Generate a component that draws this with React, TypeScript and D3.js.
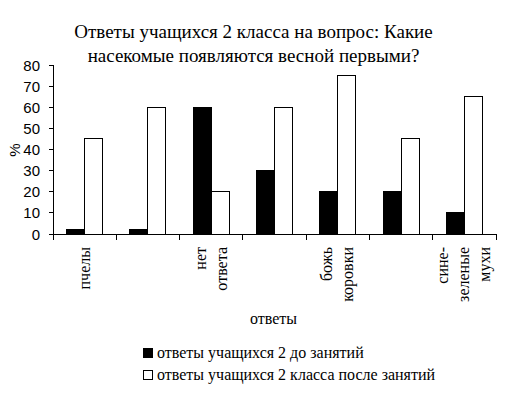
import React from "react";
import * as d3 from "d3";

const categories: string[][] = [["пчелы"], [""], ["нет", "ответа"], [""], ["божь", "коровки"], [""], ["сине-", "зеленые", "мухи"]];
const beforeValues = [2, 2, 60, 30, 20, 20, 10];
const afterValues = [45, 60, 20, 60, 75, 45, 65];
const yTicks = [0, 10, 20, 30, 40, 50, 60, 70, 80];
const seriesNames = ["ответы учащихся 2 до занятий", "ответы учащихся 2 класса после занятий"];
const titleLines = ["Ответы учащихся 2 класса на вопрос: Какие", "насекомые появляются весной первыми?"];

const W = 511;
const H = 397;
const left = 53;
const right = 496;
const top = 65;
const bottom = 234;

export default function App() {
  const idx = categories.map((_, i) => String(i));
  const x = d3.scaleBand<string>().domain(idx).range([left, right]).padding(0);
  const inner = d3.scaleBand<string>().domain(["b", "a"]).range([0, x.bandwidth()]).paddingInner(0).paddingOuter(0.758);
  const y = d3.scaleLinear().domain([0, 80]).range([bottom, top]);
  const series = [
    { key: "b", values: beforeValues, fill: "#000" },
    { key: "a", values: afterValues, fill: "#fff" },
  ];
  const boundaries = idx.map((d) => x(d)!).concat([right]);
  const serifFamily = "Times New Roman";
  const sansFamily = "Liberation Sans";

  return (
    <svg width={W} height={H} style={{ position: "absolute", left: 0, top: 0 }}>
      <rect width={W} height={H} fill="#fff" />
      {titleLines.map((t, i) => (
        <text key={i} x={253.5} y={38 + i * 24} textAnchor="middle" style={{ fontFamily: serifFamily, fontSize: "19px" }}>{t}</text>
      ))}
      {series.map((s) =>
        s.values.map((v, i) => (
          <rect
            key={s.key + i}
            x={x(String(i))! + inner(s.key)!}
            y={y(v)}
            width={inner.bandwidth()}
            height={bottom - y(v)}
            fill={s.fill}
            stroke="#000"
            strokeWidth={1}
            shapeRendering="crispEdges"
          />
        ))
      )}
      <g shapeRendering="crispEdges" stroke="#000" strokeWidth={1}>
        <line x1={left} x2={left} y1={top} y2={bottom} />
        {yTicks.map((t) => (
          <line key={t} x1={left - 4} x2={left} y1={y(t)} y2={y(t)} />
        ))}
        <line x1={left} x2={right} y1={bottom} y2={bottom} />
        {boundaries.map((b, i) => (
          <line key={i} x1={b} x2={b} y1={bottom} y2={bottom + 6} />
        ))}
      </g>
      {yTicks.map((t) => (
        <text key={t} x={40} y={y(t) + 5.5} textAnchor="end" style={{ fontFamily: sansFamily, fontSize: "15px" }}>{t}</text>
      ))}
      <text textAnchor="middle" transform={`translate(20,150) rotate(-90)`} style={{ fontFamily: sansFamily, fontSize: "15px" }}>%</text>
      {categories.map((lines, i) => {
        const cx = x(String(i))! + x.bandwidth() / 2;
        return lines.map((ln, j) => {
          const bx = cx + (j - (lines.length - 1) / 2) * 21 + 5;
          return (
            <text key={i + "-" + j} textAnchor="end" transform={`translate(${bx},247) rotate(-90)`} style={{ fontFamily: serifFamily, fontSize: "16px" }}>{ln}</text>
          );
        });
      })}
      <text textAnchor="middle" x={273.5} y={324} style={{ fontFamily: serifFamily, fontSize: "16px" }}>ответы</text>
      {seriesNames.map((n, i) => (
        <g key={i}>
          <rect x={143.5} y={348.5 + i * 22} width={9} height={9} fill={series[i].fill} stroke="#000" strokeWidth={1} shapeRendering="crispEdges" />
          <text x={157} y={358 + i * 22} style={{ fontFamily: serifFamily, fontSize: "16px" }}>{n}</text>
        </g>
      ))}
    </svg>
  );
}
